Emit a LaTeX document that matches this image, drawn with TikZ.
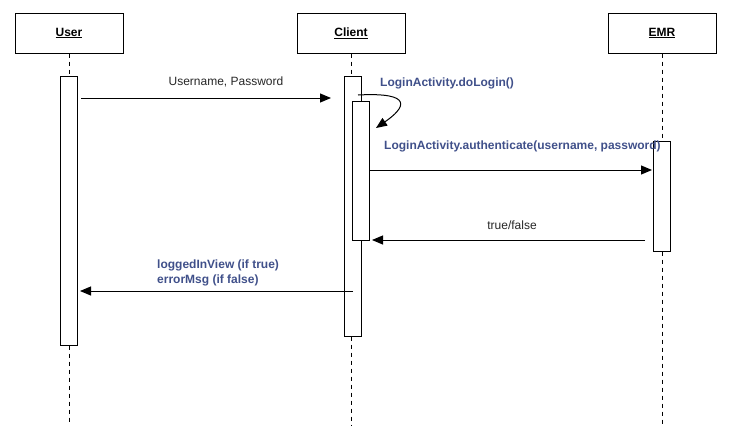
\documentclass[tikz,border=0pt]{standalone}
\usepackage{fontspec}
\setmainfont{Liberation Sans}
\usetikzlibrary{arrows.meta}
\definecolor{msgblue}{RGB}{64,80,138}
\begin{document}
\begin{tikzpicture}[x=1pt,y=-1pt,
 head/.style={draw, line width=1pt, minimum width=108pt, minimum height=40pt, inner sep=0pt, font=\fontsize{12}{14}\selectfont\bfseries},
 bar/.style={draw, fill=white, line width=1pt, minimum width=17pt, inner sep=0pt},
 life/.style={line width=0.8pt, dash pattern=on 4pt off 4pt},
 msg/.style={line width=1pt, -{Triangle[length=11pt,width=9pt]}},
 lbl/.style={font=\fontsize{12}{14}\selectfont, inner sep=0pt, text=black!85},
 blbl/.style={font=\fontsize{12}{15}\selectfont\bfseries, text=msgblue, inner sep=0pt},
]
\useasboundingbox (0,0) rectangle (731,439);
% headers
\node[head] (uh) at (69,33) {\underline{User}};
\node[head] (ch) at (351,33) {\underline{Client}};
\node[head] (eh) at (662,33) {\underline{EMR}};
% lifeline ends
\coordinate (ue) at (69,425);
\coordinate (ce) at (351,425);
\coordinate (ee) at (662,425);
% activation bars
\node[bar, minimum height=269pt] (ub) at (68.5,210.5) {};
\node[bar, minimum height=260pt] (cb) at (352.5,206) {};
\node[bar, minimum height=139pt] (nb) at (360.5,170.5) {};
\node[bar, minimum height=110pt] (eb) at (661.5,196) {};
% lifelines
\draw[life] (uh.south) -- (uh.south |- ub.north);
\draw[life] (uh.south |- ub.south) -- (ue);
\draw[life] (ch.south) -- (ch.south |- cb.north);
\draw[life] (ch.south |- cb.south) -- (ce);
\draw[life] (eh.south) -- (eh.south |- eb.north);
\draw[life] (eh.south |- eb.south) -- (ee);
% message end points
\coordinate (m1s) at (81,98);   \coordinate (m1e) at (331,98);
\coordinate (m2s) at (358,95);  \coordinate (m2e) at (376,128);
\coordinate (m3s) at (370,170); \coordinate (m3e) at (652,170);
\coordinate (m4s) at (645,240); \coordinate (m4e) at (372,240);
\coordinate (m5s) at (353,291); \coordinate (m5e) at (80,291);
% messages
\draw[msg] (m1s) -- (m1e);
\node[lbl] (l1) at (226,82) {Username, Password};
\draw[msg] (m2s) .. controls (415,92) and (405,108) .. (m2e);
\node[blbl, anchor=west] (l2) at (380,83) {LoginActivity.doLogin()};
\draw[msg] (m3s) -- (m3e);
\node[blbl, anchor=west] (l3) at (384,146) {LoginActivity.authenticate(username, password)};
\draw[msg] (m4s) -- (m4e);
\node[lbl] (l4) at (512,225) {true/false};
\draw[msg] (m5s) -- (m5e);
\node[blbl, anchor=west, align=left] (l5) at (157,272.5) {loggedInView (if true)\\errorMsg (if false)};
\end{tikzpicture}
\end{document}
